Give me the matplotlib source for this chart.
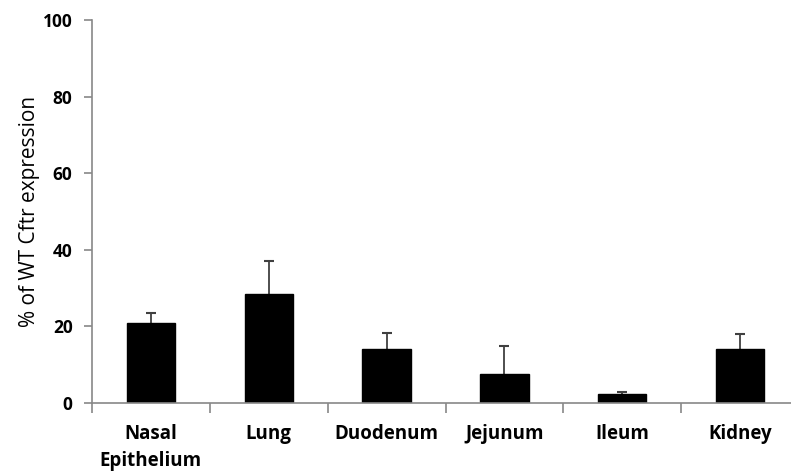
import matplotlib
matplotlib.use("Agg")
import matplotlib.pyplot as plt
import numpy as np

categories = ["Nasal\nEpithelium", "Lung", "Duodenum", "Jejunum", "Ileum", "Kidney"]
values = [20.8, 28.4, 14.0, 7.7, 2.4, 14.0]
errors = [2.6, 8.6, 4.4, 7.2, 0.6, 4.1]
yticks = [0, 20, 40, 60, 80, 100]

plt.rcParams['font.family'] = ['Open Sans', 'DejaVu Sans']
fig = plt.figure(figsize=(7.91, 4.71), dpi=100)
ax = fig.add_axes([92/791, 68/471, 707/791, 383/471])

x = np.arange(len(categories))
ax.bar(x, values, width=0.41, color='black', edgecolor='black', zorder=2)
eb = ax.errorbar(x, values, yerr=[np.zeros(len(errors)), errors], fmt='none',
                 ecolor='#404040', elinewidth=1.3, capsize=3.5, capthick=1.5, zorder=1)
eb[1][0].set_visible(False)

ax.set_xlim(-0.5, len(categories) - 0.5)
ax.set_ylim(0, 100)
ax.set_yticks(yticks)
ax.set_yticklabels([str(t) for t in yticks], fontsize=12.5, fontweight='bold')
ax.set_xticks(x)
ax.set_xticklabels(categories, fontsize=13.5, fontweight='bold', linespacing=1.5)
ax.set_xticks(np.arange(len(categories) + 1) - 0.5, minor=True)
ax.tick_params(axis='x', which='major', length=0, pad=15)
ax.tick_params(axis='x', which='minor', length=7, color='#888888', width=1.2, direction='out')
ax.tick_params(axis='y', length=6, color='#888888', width=1.2, direction='out', pad=8)

for s in ['top', 'right']:
    ax.spines[s].set_visible(False)
for s in ['left', 'bottom']:
    ax.spines[s].set_color('#888888')
    ax.spines[s].set_linewidth(1.2)

ax.set_ylabel("% of WT Cftr expression", fontsize=15, labelpad=2)

fig.savefig("out.png", dpi=100)
